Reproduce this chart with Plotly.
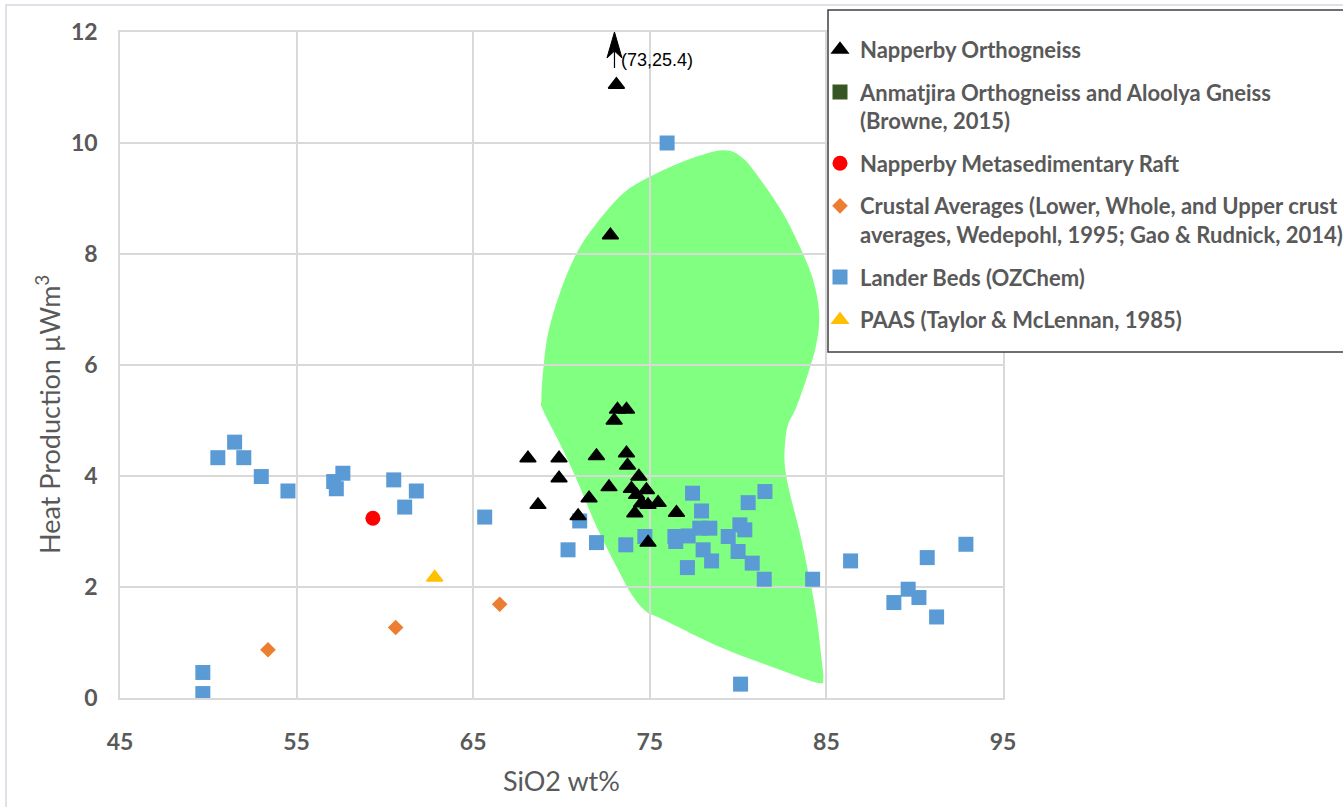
import plotly.graph_objects as go

# ---- data -------------------------------------------------------------
napperby_ortho_x = [73.11, 72.77, 73.17, 73.68, 72.98, 68.10, 69.86, 71.98, 73.68, 73.74,
                    69.86, 74.38, 72.69, 73.96, 74.81, 74.25, 71.56, 74.53, 74.90, 75.47,
                    68.67, 70.94, 74.15, 76.51, 74.90]
napperby_ortho_y = [11.05, 8.34, 5.20, 5.20, 5.00, 4.32, 4.32, 4.36, 4.41, 4.19,
                    3.96, 3.99, 3.80, 3.77, 3.75, 3.66, 3.60, 3.51, 3.48, 3.52,
                    3.48, 3.28, 3.33, 3.34, 2.80]

# sample plotting above the axis limit, flagged with an arrow
offscale_x = 73.0
offscale_y = 25.4

lander_x = [50.54, 51.49, 52.01, 53.00, 54.51, 57.10, 57.62, 57.25, 60.50, 61.78,
            61.12, 49.69, 49.69, 65.65, 71.03, 70.37, 71.98, 73.64, 74.72, 77.42,
            77.93, 81.52, 80.57, 76.42, 76.47, 77.17, 77.83, 78.40, 78.02, 78.50,
            77.13, 79.44, 80.10, 80.38, 80.00, 80.80, 81.48, 84.22, 80.14, 75.98,
            86.37, 90.71, 92.90, 89.63, 88.82, 90.24, 91.24]
lander_y = [4.33, 4.61, 4.33, 3.99, 3.73, 3.90, 4.05, 3.77, 3.93, 3.73,
            3.44, 0.46, 0.08, 3.26, 3.19, 2.67, 2.80, 2.76, 2.91, 3.69,
            3.37, 3.72, 3.52, 2.91, 2.82, 2.92, 3.06, 3.06, 2.67, 2.47,
            2.35, 2.91, 3.12, 3.03, 2.64, 2.43, 2.14, 2.14, 0.25, 10.00,
            2.47, 2.53, 2.77, 1.96, 1.72, 1.81, 1.46]

raft_x = [59.32]
raft_y = [3.24]

crustal_x = [53.38, 60.61, 66.50]
crustal_y = [0.87, 1.27, 1.69]

paas_x = [62.82]
paas_y = [2.17]

# outline of the granite field
field_x = [79.15, 80.29, 81.42, 82.55, 83.50, 84.25, 84.59, 84.44, 83.97, 83.31,
           82.82, 82.65, 82.65, 82.93, 83.50, 84.06, 84.44, 84.73, 84.82, 84.54,
           82.37, 78.97, 75.57, 74.90, 74.05, 73.11, 71.98, 71.03, 70.09, 68.95,
           68.86, 68.95, 69.24, 69.90, 70.85, 71.98, 73.49, 75.00, 77.08]
field_y = [9.87, 9.72, 9.27, 8.73, 8.13, 7.53, 6.93, 6.39, 5.85, 5.25,
           4.92, 4.56, 4.17, 3.69, 2.97, 2.13, 1.47, 0.69, 0.36, 0.27,
           0.51, 0.92, 1.44, 1.53, 1.83, 2.37, 3.09, 3.81, 4.47, 5.19,
           5.37, 5.85, 6.57, 7.29, 8.01, 8.55, 9.09, 9.39, 9.69]

x_ticks = [45, 55, 65, 75, 85, 95]
y_ticks = [0, 2, 4, 6, 8, 10, 12]

X_RANGE = [45, 95]
Y_RANGE = [0, 12]

GREY = "#595959"
GRID = "#D9D9D9"


def closed_smooth_path(xs, ys):
    """Closed Catmull-Rom curve through the points, as an SVG path."""
    n = len(xs)
    pts = list(zip(xs, ys))
    d = f"M{pts[0][0]},{pts[0][1]}"
    for i in range(n):
        p0 = pts[i - 1]
        p1 = pts[i]
        p2 = pts[(i + 1) % n]
        p3 = pts[(i + 2) % n]
        c1 = (p1[0] + (p2[0] - p0[0]) / 6, p1[1] + (p2[1] - p0[1]) / 6)
        c2 = (p2[0] - (p3[0] - p1[0]) / 6, p2[1] - (p3[1] - p1[1]) / 6)
        d += f" C{c1[0]:.3f},{c1[1]:.3f} {c2[0]:.3f},{c2[1]:.3f} {p2[0]},{p2[1]}"
    return d + " Z"


def triangle(color):
    return dict(symbol="triangle-up", size=14, color=color,
                line=dict(color=color, width=1.5))


fig = go.Figure()

fig.add_trace(go.Scatter(
    x=lander_x, y=lander_y, mode="markers", name="Lander Beds (OZChem)",
    legendgroup="g5", legendrank=5,
    marker=dict(symbol="square", size=15, color="#5B9BD5"),
))
fig.add_trace(go.Scatter(
    x=[None], y=[None], mode="markers",
    name="Anmatjira Orthogneiss and Aloolya Gneiss<br>(Browne, 2015)",
    legendgroup="g2", legendrank=2,
    marker=dict(symbol="square", size=15, color="#375623"),
))
fig.add_trace(go.Scatter(
    x=raft_x, y=raft_y, mode="markers", name="Napperby Metasedimentary Raft",
    legendgroup="g3", legendrank=3,
    marker=dict(symbol="circle", size=15, color="#FF0000"),
))
fig.add_trace(go.Scatter(
    x=crustal_x, y=crustal_y, mode="markers",
    name="Crustal Averages (Lower, Whole, and Upper crust<br>averages, Wedepohl, 1995; Gao & Rudnick, 2014)",
    legendgroup="g4", legendrank=4,
    marker=dict(symbol="diamond", size=12, color="#ED7D31"),
))
fig.add_trace(go.Scatter(
    x=paas_x, y=paas_y, mode="markers", name="PAAS (Taylor & McLennan, 1985)",
    legendgroup="g6", legendrank=6, marker=triangle("#FFC000"),
))
fig.add_trace(go.Scatter(
    x=napperby_ortho_x, y=napperby_ortho_y, mode="markers", name="Napperby Orthogneiss",
    legendgroup="g1", legendrank=1, marker=triangle("#000000"),
))

shapes = [
    # granite field, below the gridlines
    dict(type="path", path=closed_smooth_path(field_x, field_y), xref="x", yref="y",
         fillcolor="#80FF80", line=dict(width=0), layer="below"),
    # off-scale arrow: shaft and notched head, sized in pixels at the top of the axis
    dict(type="line", xref="x", yref="y", xsizemode="pixel", ysizemode="pixel",
         xanchor=offscale_x, yanchor=Y_RANGE[1], x0=0, x1=0, y0=-36, y1=-18,
         line=dict(color="#000000", width=1.2), layer="above"),
    dict(type="path", xref="x", yref="y", xsizemode="pixel", ysizemode="pixel",
         xanchor=offscale_x, yanchor=Y_RANGE[1],
         path="M0,0 L-7.5,-26 L0,-19 L7.5,-26 Z",
         fillcolor="#000000", line=dict(color="#000000", width=1), layer="above"),
    # legend frame
    dict(type="rect", xref="paper", yref="paper",
         x0=(828 - 120) / 883, x1=1.6, y0=(698 - 352) / 666, y1=(698 - 10) / 666,
         fillcolor="white", line=dict(color="#404040", width=1.5), layer="above"),
    # outer chart border
    dict(type="rect", xref="paper", yref="paper",
         x0=(6 - 120) / 883, x1=1.6, y0=-0.5, y1=(698 - 5) / 666,
         fillcolor="rgba(0,0,0,0)", line=dict(color="#D3D9E1", width=1.5), layer="below"),
]

annotations = [
    dict(x=offscale_x, y=Y_RANGE[1], xref="x", yref="y",
         text=f"({offscale_x:g},{offscale_y:g})", showarrow=False,
         xanchor="left", yanchor="middle", xshift=5, yshift=-28,
         font=dict(family="Liberation Sans", size=18, color="#000000")),
    # axis titles
    dict(x=0.5, y=(698 - 780) / 666, xref="paper", yref="paper", text="SiO2 wt%",
         showarrow=False, xanchor="center", yanchor="middle",
         font=dict(family="Lato", size=27, color=GREY)),
    dict(x=(48 - 120) / 883, y=(698 - 415) / 666, xref="paper", yref="paper",
         text="Heat Production µWm<sup>3</sup>", textangle=-90,
         showarrow=False, xanchor="center", yanchor="middle",
         font=dict(family="Lato", size=27, color=GREY)),
]

axis_common = dict(
    showgrid=True, gridcolor=GRID, gridwidth=1.5,
    showline=True, linecolor=GRID, linewidth=1.5, mirror=True,
    zeroline=False, ticks="",
    tickfont=dict(family="Lato", size=23, color=GREY, weight="bold"),
)

fig.update_xaxes(range=X_RANGE, tickvals=x_ticks, ticklabelstandoff=23, **axis_common)
fig.update_yaxes(range=Y_RANGE, tickvals=y_ticks, ticklabelstandoff=16, **axis_common)

fig.update_layout(
    width=1343, height=807,
    margin=dict(l=120, r=340, t=32, b=109, autoexpand=False),
    plot_bgcolor="white", paper_bgcolor="white",
    shapes=shapes, annotations=annotations,
    showlegend=True,
    legend=dict(
        x=(820 - 120) / 883, y=1.005, xanchor="left", yanchor="top",
        bgcolor="rgba(0,0,0,0)", borderwidth=0,
        traceorder="grouped", tracegroupgap=11, valign="top",
        font=dict(family="Lato", size=22, color=GREY, weight="bold"),
    ),
)

fig.write_html("out.html")
